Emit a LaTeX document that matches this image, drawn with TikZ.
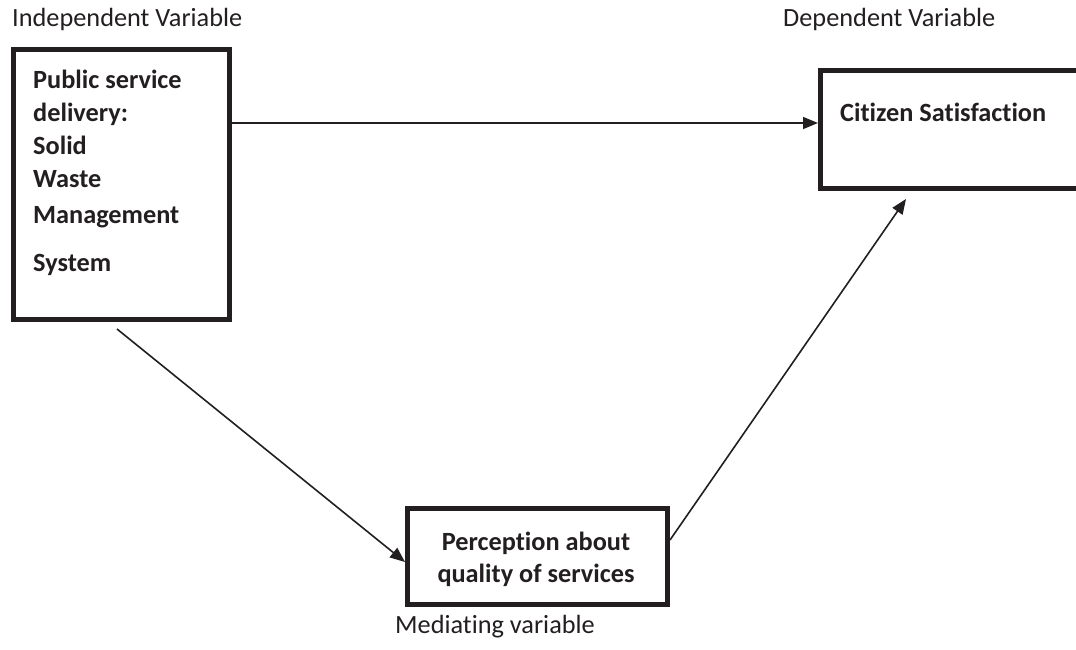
\documentclass[tikz,border=0pt]{standalone}
\usepackage{fontspec}
\setmainfont{Carlito}[Ligatures={NoCommon,NoContextual,NoRequired}]
\usetikzlibrary{arrows.meta}
\definecolor{ink}{HTML}{231F20}
\begin{document}
\begin{tikzpicture}[x=1pt,y=-1pt,
  box/.style={draw=ink, line width=5pt, inner sep=0pt, anchor=north west},
  lbl/.style={font=\fontsize{26.3}{31}\selectfont, text=ink, inner sep=0pt, anchor=base west},
  btxt/.style={font=\fontsize{26.3}{33}\selectfont\bfseries, text=ink, inner sep=0pt},
  conn/.style={line width=1.6pt, draw=ink, -{Triangle[length=15pt,width=12pt]}}
]
\useasboundingbox[fill=white] (0,0) rectangle (1076,650);
\begin{scope}
\clip (0,0) rectangle (1076,650);
% boxes
\node[box, minimum width=216pt, minimum height=270pt] (box1) at (11,47) {};
\node[box, minimum width=272pt, minimum height=118pt] (box2) at (818,68) {};
\node[box, minimum width=260pt, minimum height=96pt] (box3) at (405,506) {};
\end{scope}
% box texts
\node[btxt, anchor=north west, align=left] (t1) at (33,70)
  {Public service\\delivery:\\Solid\\Waste\\[3pt]Management\\[15pt]System};
\node[btxt, anchor=base west] (t2) at (840,122) {Citizen Satisfaction};
\node[btxt, anchor=north, align=center, font=\fontsize{26.3}{32}\selectfont\bfseries] (t3) at (536,531.5)
  {Perception about\\quality of services};
% labels
\node[lbl] (iv) at (12,27) {Independent Variable};
\node[lbl] (dv) at (783,27) {Dependent Variable};
\node[lbl] (mv) at (395,633) {Mediating variable};
% connectors
\coordinate (y1) at (0,123);
\coordinate (s2) at (117,329);
\coordinate (y2) at (0,562);
\coordinate (y3) at (0,540);
\coordinate (e3) at (906,199);
\draw[conn] (box1.east |- y1) -- (box2.west |- y1);
\draw[conn] (s2) -- (box3.west |- y2);
\draw[conn] (box3.east |- y3) -- (e3);
\end{tikzpicture}
\end{document}
